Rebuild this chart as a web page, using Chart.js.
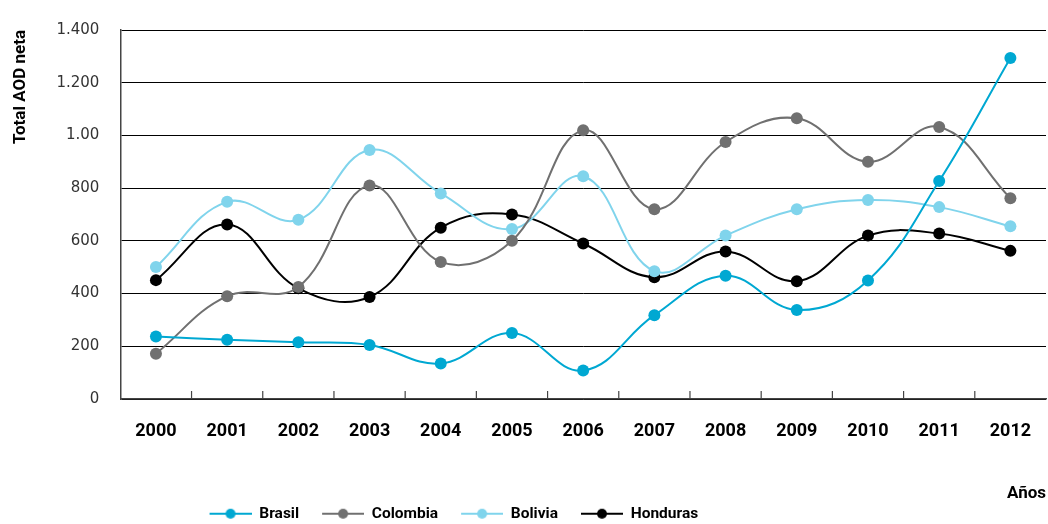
<!DOCTYPE html>
<html>
<head>
<meta charset="utf-8">
<script src="https://cdn.jsdelivr.net/npm/chart.js@4"></script>
<style>
  html, body { margin: 0; padding: 0; background: #fff; overflow: hidden; }
  #wrap { width: 1048px; height: 524px; }
</style>
</head>
<body>
<div id="wrap"><canvas id="grafico"></canvas></div>
<script>
// datos
var anios = ["2000", "2001", "2002", "2003", "2004", "2005", "2006", "2007", "2008", "2009", "2010", "2011", "2012"];
var brasil = [237, 225, 215, 205, 135, 250, 108, 318, 468, 338, 450, 827, 1294];
var colombia = [172, 390, 425, 810, 520, 600, 1020, 720, 975, 1065, 900, 1032, 762];
var bolivia = [501, 748, 680, 945, 780, 645, 845, 485, 620, 720, 755, 728, 655];
var honduras = [451, 662, 420, 387, 650, 700, 590, 462, 560, 447, 620, 628, 562];
var ticksY = ["0", "200", "400", "600", "800", "1.00", "1.200", "1.400"];

var fuente = "Roboto";

// icono de la leyenda: hueco a la izquierda + linea con punto
function icono(color) {
  var c = document.createElement("canvas");
  c.width = 61;
  c.height = 12;
  var g = c.getContext("2d");
  g.strokeStyle = color;
  g.lineWidth = 2;
  g.beginPath();
  g.moveTo(19, 6);
  g.lineTo(61, 6);
  g.stroke();
  g.fillStyle = color;
  g.beginPath();
  g.arc(40, 6, 5, 0, Math.PI * 2);
  g.fill();
  return c;
}

function serie(nombre, datos, color) {
  return {
    label: nombre,
    data: datos,
    borderColor: color,
    backgroundColor: color,
    pointBackgroundColor: color,
    pointBorderWidth: 0,
    pointRadius: 6,
    borderWidth: 2,
    tension: 0.4,
    legendIcon: icono(color),
    fill: false
  };
}

// marcas del eje x hacia arriba entre categorias
var marcasX = {
  id: "marcasX",
  afterDatasetsDraw: function (chart) {
    var x = chart.scales.x;
    var ctx = chart.ctx;
    var abajo = chart.chartArea.bottom;
    ctx.save();
    ctx.strokeStyle = "#444";
    ctx.lineWidth = 1.2;
    for (var i = 0; i < anios.length - 1; i++) {
      var px = (x.getPixelForValue(i) + x.getPixelForValue(i + 1)) / 2;
      ctx.beginPath();
      ctx.moveTo(px, abajo);
      ctx.lineTo(px, abajo - 8);
      ctx.stroke();
    }
    ctx.restore();
  }
};

// la leyenda va debajo del titulo "Años", algo a la izquierda
var moverLeyenda = {
  id: "moverLeyenda",
  afterLayout: function (chart) {
    var l = chart.legend;
    var w = l.right - l.left;
    l.top = chart.height - 22;
    l.bottom = l.top + 30;
    l.left = chart.width * 0.424 - w / 2;
    l.right = l.left + w;
  }
};

var datasets = [
  serie("Brasil", brasil, "#00a8d2"),
  serie("Colombia", colombia, "#707070"),
  serie("Bolivia", bolivia, "#80d4ec"),
  serie("Honduras", honduras, "#000000")
];

new Chart(document.getElementById("grafico"), {
  type: "line",
  data: { labels: anios, datasets: datasets },
  plugins: [marcasX, moverLeyenda],
  options: {
    responsive: true,
    maintainAspectRatio: false,
    animation: false,
    layout: { autoPadding: false, padding: { left: 11, right: 2, top: 27, bottom: 0 } },
    plugins: {
      tooltip: { enabled: false },
      legend: {
        position: "bottom",
        maxHeight: 20,
        labels: {
          usePointStyle: true,
          pointStyleWidth: 61,
          padding: 4,
          color: "#000",
          font: { family: fuente, size: 15.5, weight: "bold" },
          generateLabels: function (chart) {
            return chart.data.datasets.map(function (d, i) {
              return {
                text: d.label,
                pointStyle: d.legendIcon,
                fillStyle: d.borderColor,
                strokeStyle: d.borderColor,
                lineWidth: 0,
                datasetIndex: i,
                fontColor: "#000"
              };
            });
          }
        }
      }
    },
    scales: {
      x: {
        offset: true,
        grid: {
          display: true,
          drawOnChartArea: false,
          drawTicks: true,
          tickLength: 22,
          tickColor: "rgba(0,0,0,0)"
        },
        border: { color: "#444", width: 1.5 },
        ticks: {
          color: "#000",
          padding: 0,
          maxRotation: 0,
          font: { family: fuente, size: 18, weight: "bold" }
        },
        title: {
          display: true,
          text: "Años",
          align: "end",
          color: "#000",
          padding: { top: 41, bottom: 0 },
          font: { family: fuente, size: 17, weight: "bold" }
        }
      },
      y: {
        min: 0,
        max: 1400,
        grid: { color: "#000", lineWidth: 1, drawTicks: false },
        border: { color: "#444", width: 1.5 },
        ticks: {
          stepSize: 200,
          padding: 21,
          color: "#333",
          font: { family: "DejaVu Sans", size: 15 },
          callback: function (v, i) { return ticksY[i]; }
        },
        title: {
          display: true,
          text: "Total AOD neta",
          align: "end",
          color: "#000",
          padding: { top: 0, bottom: 4 },
          font: { family: fuente, size: 17, weight: "bold" }
        }
      }
    }
  }
});
</script>
</body>
</html>
